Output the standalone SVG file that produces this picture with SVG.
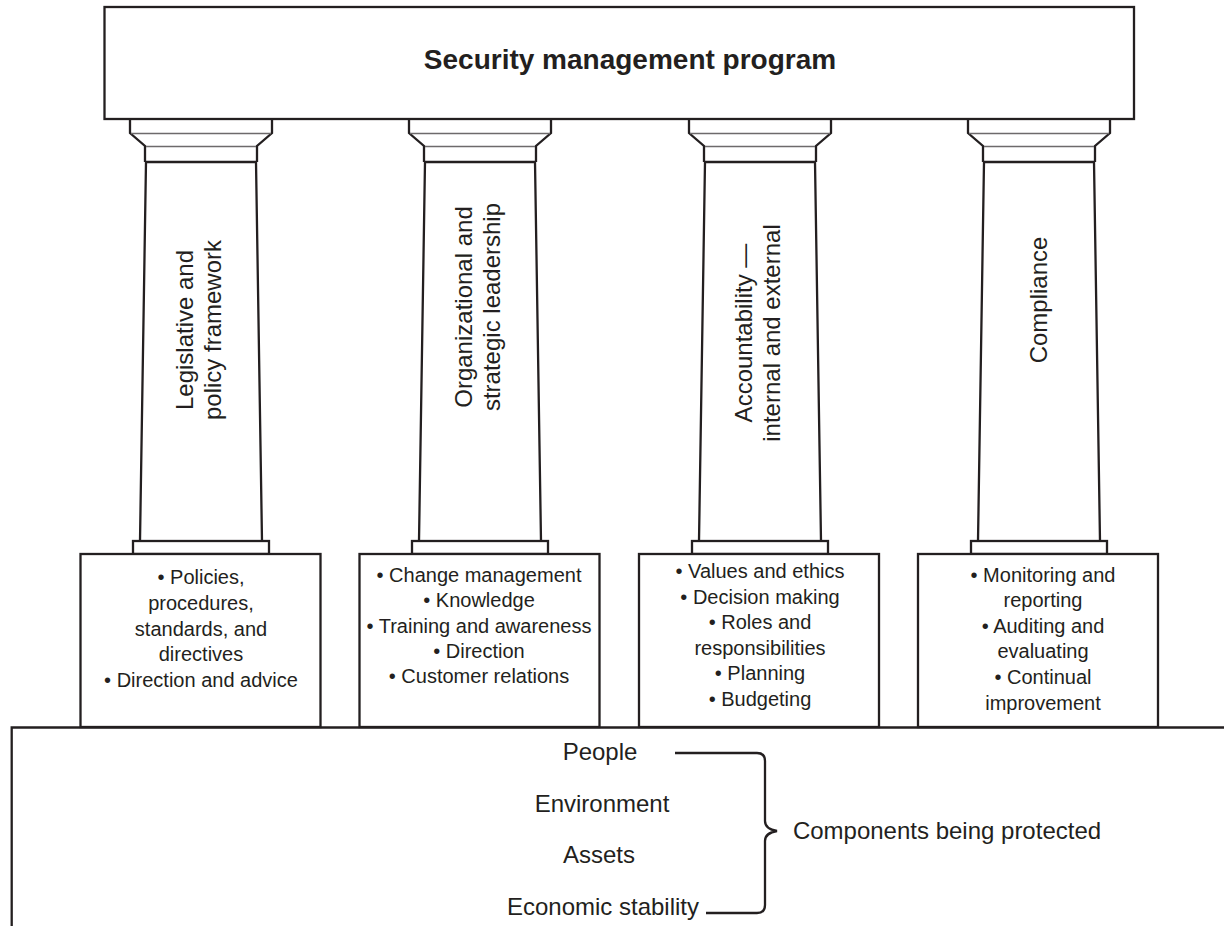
<svg xmlns="http://www.w3.org/2000/svg" width="1224" height="926" viewBox="0 0 1224 926">
<style>
.ln{fill:none;stroke:#231f20;stroke-width:2.3;stroke-linejoin:miter}
.box{fill:#fff;stroke:#231f20;stroke-width:2.3}
.thin{fill:none;stroke:#6d6a6b;stroke-width:1.3}
text{font-family:"Liberation Sans",Arial,sans-serif;fill:#231f20}
.t{font-size:20px;text-anchor:middle}
.p{font-size:24px;text-anchor:middle}
.b{font-size:24px;text-anchor:middle}
.title{font-size:28px;font-weight:bold;text-anchor:middle}
</style>
<defs>
<g id="pillar">
<path class="ln" d="M-71,119 V133 L-56,146 V162 M71,119 V133 L56,146 V162"/>
<line class="thin" x1="-70" y1="133.5" x2="70" y2="133.5"/>
<line class="thin" x1="-55" y1="146.5" x2="55" y2="146.5"/>
<path class="ln" d="M-56,162 H56 M-55,162 L-61,541 M55,162 L61,541"/>
<rect class="box" x="-68" y="541" width="136" height="13"/>
</g>
</defs>
<rect width="1224" height="926" fill="#fff"/>
<g id="foundation">
<path class="ln" d="M11.7,926 V727.5 H1224"/>
</g>
<g id="top">
<rect class="box" x="104.5" y="7" width="1029.5" height="112"/>
<text class="title" x="630" y="69">Security management program</text>
</g>
<g id="pillar1">
<use href="#pillar" transform="translate(201,0)"/>
<text class="p" transform="translate(201,330) rotate(-90)"><tspan x="0" y="-8">Legislative and</tspan><tspan x="0" y="20">policy framework</tspan></text>
<rect class="box" x="80.5" y="554" width="240" height="173"/>
<text class="t"><tspan x="201" y="584">• Policies,</tspan><tspan x="201" y="610">procedures,</tspan><tspan x="201" y="636">standards, and</tspan><tspan x="201" y="661">directives</tspan><tspan x="201" y="687">• Direction and advice</tspan></text>
</g>
<g id="pillar2">
<use href="#pillar" transform="translate(480,0)"/>
<text class="p" transform="translate(480,307) rotate(-90)"><tspan x="0" y="-8">Organizational and</tspan><tspan x="0" y="20">strategic leadership</tspan></text>
<rect class="box" x="359.5" y="554" width="240" height="173"/>
<text class="t"><tspan x="479" y="582">• Change management</tspan><tspan x="479" y="607">• Knowledge</tspan><tspan x="479" y="633">• Training and awareness</tspan><tspan x="479" y="658">• Direction</tspan><tspan x="479" y="683">• Customer relations</tspan></text>
</g>
<g id="pillar3">
<use href="#pillar" transform="translate(760,0)"/>
<text class="p" transform="translate(760,333) rotate(-90)"><tspan x="0" y="-8">Accountability —</tspan><tspan x="0" y="20">internal and external</tspan></text>
<rect class="box" x="639" y="554" width="240" height="173"/>
<text class="t"><tspan x="760" y="578">• Values and ethics</tspan><tspan x="760" y="604">• Decision making</tspan><tspan x="760" y="629">• Roles and</tspan><tspan x="760" y="655">responsibilities</tspan><tspan x="760" y="680">• Planning</tspan><tspan x="760" y="706">• Budgeting</tspan></text>
</g>
<g id="pillar4">
<use href="#pillar" transform="translate(1039,0)"/>
<text class="p" transform="translate(1039,300) rotate(-90)"><tspan x="0" y="8">Compliance</tspan></text>
<rect class="box" x="918" y="554" width="240" height="173"/>
<text class="t"><tspan x="1043" y="582">• Monitoring and</tspan><tspan x="1043" y="607">reporting</tspan><tspan x="1043" y="633">• Auditing and</tspan><tspan x="1043" y="658">evaluating</tspan><tspan x="1043" y="684">• Continual</tspan><tspan x="1043" y="710">improvement</tspan></text>
</g>
<g id="components">
<text class="b" x="600" y="760">People</text>
<text class="b" x="602" y="812">Environment</text>
<text class="b" x="599" y="863">Assets</text>
<text class="b" x="603" y="915">Economic stability</text>
<text class="b" x="947" y="839">Components being protected</text>
</g>
<g id="connectors">
<path class="ln" d="M675,753 H757 Q765,753 765,761 V821 Q765,829 777,831 Q765,833 765,841 V905 Q765,913 757,913 H706"/>
</g>
</svg>
